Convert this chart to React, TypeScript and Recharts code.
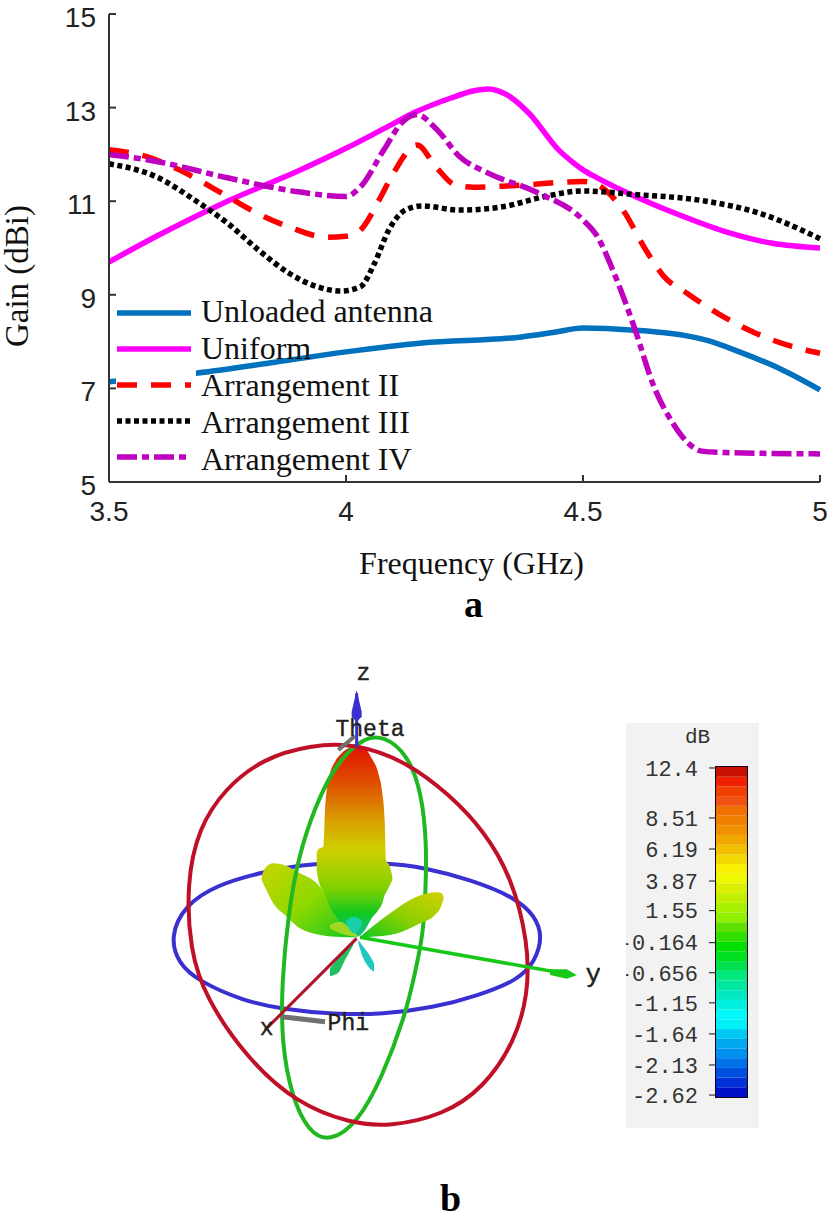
import {
  Area,
  Bar,
  BarChart,
  ComposedChart,
  Legend,
  Line,
  LineChart,
  ReferenceArea,
  ReferenceDot,
  XAxis,
  YAxis,
} from 'recharts';

// panel a: gain against frequency
const unloadedFreq = [3.5, 3.687, 3.85, 4.0, 4.16, 4.37, 4.44, 4.5, 4.6, 4.76, 4.83, 4.92, 5.0];
const unloadedGain = [7.14, 7.33, 7.56, 7.78, 7.97, 8.1, 8.2, 8.29, 8.25, 8.03, 7.78, 7.4, 6.97];

const uniformFreq = [3.5, 3.6, 3.75, 3.9, 4.0, 4.08, 4.15, 4.22, 4.27, 4.3, 4.34, 4.386, 4.45, 4.48, 4.5, 4.53, 4.6, 4.7, 4.8, 4.9, 5.0];
const uniformGain = [9.7, 10.25, 11.0, 11.65, 12.13, 12.55, 12.92, 13.2, 13.36, 13.4, 13.27, 12.88, 12.08, 11.82, 11.67, 11.5, 11.15, 10.72, 10.35, 10.1, 10.0];

const arr2Freq = [3.5, 3.58, 3.648, 3.75, 3.8, 3.88, 3.96, 4.0, 4.03, 4.07, 4.1, 4.15, 4.19, 4.23, 4.27, 4.35, 4.5, 4.53, 4.585, 4.63, 4.67, 4.72, 4.785, 4.86, 4.93, 5.0];
const arr2Gain = [12.1, 11.95, 11.67, 11.1, 10.81, 10.45, 10.23, 10.25, 10.38, 11.03, 11.6, 12.2, 11.73, 11.35, 11.3, 11.33, 11.42, 11.35, 10.8, 10.0, 9.4, 9.03, 8.6, 8.2, 7.93, 7.75];

const arr3Freq = [3.5, 3.6, 3.68, 3.75, 3.815, 3.88, 3.94, 3.99, 4.03, 4.06, 4.09, 4.125, 4.16, 4.24, 4.33, 4.42, 4.5, 4.6, 4.76, 4.87, 5.0];
const arr3Gain = [11.8, 11.52, 11.03, 10.53, 9.96, 9.46, 9.17, 9.08, 9.17, 9.67, 10.38, 10.81, 10.9, 10.81, 10.88, 11.1, 11.22, 11.15, 11.0, 10.75, 10.2];

const arr4Freq = [3.5, 3.6, 3.75, 3.9, 4.0, 4.03, 4.08, 4.12, 4.15, 4.19, 4.24, 4.3, 4.4, 4.5, 4.53, 4.56, 4.585, 4.61, 4.65, 4.69, 4.72, 4.75, 4.8, 5.0];
const arr4Gain = [12.0, 11.85, 11.5, 11.2, 11.1, 11.3, 12.1, 12.7, 12.85, 12.55, 11.95, 11.6, 11.2, 10.6, 10.25, 9.6, 8.96, 8.25, 7.03, 6.25, 5.85, 5.66, 5.63, 5.6];

const freqTicks = [3.5, 4, 4.5, 5];
const gainTicks = [5, 7, 9, 11, 13, 15];
const seriesNames = ['Unloaded antenna', 'Uniform', 'Arrangement II', 'Arrangement III', 'Arrangement IV'];

// panel b: outlines of the pattern plot, in units of a 1350 x 1500 picture
const redRingX = [620, 770, 900, 1000, 1085, 1135, 1135, 1095, 1000, 880, 720, 600, 440, 290, 165, 120, 110, 145, 225, 340, 480];
const redRingY = [280, 335, 435, 540, 680, 880, 1030, 1175, 1315, 1395, 1430, 1420, 1360, 1225, 1040, 900, 700, 535, 415, 325, 285];
const blueRingX = [60, 105, 200, 330, 480, 720, 820, 960, 1095, 1155, 1178, 1155, 1105, 980, 850, 700, 550, 400, 280, 145, 85];
const blueRingY = [860, 765, 705, 668, 638, 638, 653, 688, 742, 797, 860, 935, 990, 1038, 1073, 1093, 1093, 1078, 1053, 993, 940];
const greenRingX = [700, 775, 815, 830, 827, 820, 795, 765, 695, 625, 540, 475, 425, 395, 395, 415, 445, 495, 555, 635];
const greenRingY = [255, 315, 430, 580, 720, 850, 970, 1100, 1285, 1415, 1478, 1445, 1340, 1180, 1000, 790, 620, 470, 345, 265];

const mainLobeX = [500, 505, 520, 525, 530, 540, 555, 575, 600, 620, 645, 665, 685, 697, 704, 708, 720, 727];
const mainLobeTop = [610, 597, 590, 480, 420, 370, 335, 310, 292, 285, 295, 325, 370, 430, 510, 630, 650, 680];
const mainLobeBottom = [660, 690, 725, 735, 745, 770, 795, 825, 850, 860, 840, 805, 780, 760, 735, 728, 705, 690];
const leftLobeX = [335, 345, 370, 410, 450, 500, 530, 560, 620];
const leftLobeTop = [680, 655, 640, 648, 670, 700, 740, 790, 850];
const leftLobeBottom = [690, 712, 760, 800, 835, 853, 858, 860, 862];
const rightLobeX = [630, 720, 800, 860, 875, 881];
const rightLobeTop = [860, 790, 740, 727, 730, 742];
const rightLobeBottom = [862, 855, 825, 790, 765, 745];
const innerLobeX = [540, 570, 600, 625];
const innerLobeTop = [825, 815, 835, 860];
const innerLobeBottom = [835, 850, 858, 860];
const coreLobeX = [590, 612, 635];
const coreLobeTop = [812, 800, 812];
const coreLobeBottom = [825, 850, 825];
const lowLeftLobeX = [540, 565, 585, 610];
const lowLeftLobeTop = [955, 925, 900, 880];
const lowLeftLobeBottom = [978, 968, 930, 885];
const lowRightLobeX = [625, 640, 655, 672];
const lowRightLobeTop = [870, 890, 910, 940];
const lowRightLobeBottom = [880, 925, 950, 965];
const zHeadX = [605, 620, 635];
const zHeadTop = [185, 120, 185];
const zHeadBottom = [200, 215, 200];
const yHeadX = [1200, 1250, 1280];
const yHeadTop = [958, 958, 975];
const yHeadBottom = [975, 986, 976];

const zShaftX = [620, 620];
const zShaftY = [290, 130];
const yShaftX = [630, 1240];
const yShaftY = [862, 970];
const xShaftX = [620, 345];
const xShaftY = [865, 1140];
const thetaArrowX = [615, 565];
const thetaArrowY = [258, 300];
const phiArrowX = [395, 525];
const phiArrowY = [1100, 1115];

// colour scale of panel b, bottom band first
const bandColors = [
  '#0010c8', '#0030d8', '#0050e0', '#0070e8', '#0090f0', '#00a8f0', '#00c8f0', '#00f0f8', '#00f8f8', '#00f0e0',
  '#00e8c0', '#00e8a0', '#00e880', '#00e050', '#00e020', '#00e000', '#30e000', '#60e000', '#90f000', '#a8f000',
  '#c0f000', '#d8f000', '#f0f800', '#f8f000', '#f0d800', '#f0c000', '#f0a800', '#f09000', '#f08000', '#f07000',
  '#f05010', '#f04000', '#f02000', '#c81000',
];
const scaleLabels = ['12.4', '8.51', '6.19', '3.87', '1.55', '-0.164', '-0.656', '-1.15', '-1.64', '-2.13', '-2.62'];
const scaleBandPos = [33.9, 28.75, 25.55, 22.25, 19.2, 15.9, 12.8, 9.7, 6.5, 3.3, 0.2];

const zip = (xs: number[], ys: number[]) => xs.map((x, i) => ({ x, y: ys[i] }));
const zipRange = (xs: number[], top: number[], bottom: number[]) =>
  xs.map((x, i) => ({ x, range: [top[i], bottom[i]] }));

const bandRow: Record<string, number | string> = { name: 'scale' };
bandColors.forEach((_, i) => {
  bandRow[`b${i}`] = 1;
});

const serif = '"Liberation Serif", serif';
const sans = '"Liberation Sans", sans-serif';
const mono = '"Liberation Mono", monospace';
const axisColor = '#333';

function GainLegend({ payload }: any) {
  const items = [...(payload || [])].sort((a, b) => seriesNames.indexOf(a.value) - seriesNames.indexOf(b.value));
  return (
    <div style={{ position: 'relative', width: 340, height: 180 }}>
      <div style={{ position: 'absolute', left: 0, top: 0, width: 80, height: 180, background: '#fff' }} />
      {items.map((item: any, i: number) => (
        <div key={item.value}>
          <svg style={{ position: 'absolute', left: 1, top: 11 + i * 36, overflow: 'visible' }} width={75} height={10}>
            <line
              x1={0}
              x2={74}
              y1={5}
              y2={5}
              stroke={item.color}
              strokeWidth={5.5}
              strokeDasharray={item.payload?.strokeDasharray}
            />
          </svg>
          <span
            style={{
              position: 'absolute',
              left: 85,
              top: -4 + i * 37,
              fontFamily: serif,
              fontSize: 32,
              lineHeight: '36px',
              color: '#111',
              whiteSpace: 'nowrap',
            }}
          >
            {item.value}
          </span>
        </div>
      ))}
    </div>
  );
}

function GainChart() {
  return (
    <LineChart width={827} height={600} margin={{ top: 14, right: 7, bottom: 0, left: 0 }}>
      <XAxis
        xAxisId="b"
        type="number"
        dataKey="x"
        domain={[3.5, 5]}
        ticks={freqTicks}
        interval={0}
        height={118}
        tickSize={-7}
        tickMargin={26}
        stroke={axisColor}
        strokeWidth={2}
        tick={{ fontFamily: sans, fontSize: 28, fill: '#222' }}
        label={{ value: 'Frequency (GHz)', position: 'insideTop', dy: 64, dx: 7, fontFamily: serif, fontSize: 32, fill: '#111' }}
      />
      <XAxis
        xAxisId="t"
        orientation="top"
        type="number"
        dataKey="x"
        domain={[3.5, 5]}
        ticks={freqTicks}
        height={0}
        tick={false}
        tickSize={-7}
        stroke={axisColor}
        strokeWidth={2}
      />
      <YAxis
        yAxisId="l"
        type="number"
        domain={[5, 15]}
        ticks={gainTicks}
        interval={0}
        width={109}
        tickSize={-7}
        tickMargin={20}
        stroke={axisColor}
        strokeWidth={2}
        tick={{ fontFamily: sans, fontSize: 28, fill: '#222', dy: 3 }}
        label={{
          value: 'Gain (dBi)',
          angle: -90,
          position: 'insideLeft',
          textAnchor: 'middle',
          dx: 11,
          dy: 28,
          fontFamily: serif,
          fontSize: 33,
          fill: '#111',
        }}
      />
      <YAxis
        yAxisId="r"
        orientation="right"
        type="number"
        domain={[5, 15]}
        ticks={gainTicks}
        width={0}
        tick={false}
        tickSize={-7}
        stroke={axisColor}
        strokeWidth={2}
      />
      <Line xAxisId="b" yAxisId="l" data={zip(unloadedFreq, unloadedGain)} dataKey="y" name={seriesNames[0]} type="monotone" stroke="#0072bd" strokeWidth={5.5} dot={false} isAnimationActive={false} />
      <Line xAxisId="b" yAxisId="l" data={zip(uniformFreq, uniformGain)} dataKey="y" name={seriesNames[1]} type="monotone" stroke="#ff00ff" strokeWidth={5.5} dot={false} isAnimationActive={false} />
      <Line xAxisId="b" yAxisId="l" data={zip(arr2Freq, arr2Gain)} dataKey="y" name={seriesNames[2]} type="monotone" stroke="#ff0000" strokeWidth={5.5} strokeDasharray="20 14" dot={false} isAnimationActive={false} />
      <Line xAxisId="b" yAxisId="l" data={zip(arr3Freq, arr3Gain)} dataKey="y" name={seriesNames[3]} type="monotone" stroke="#000000" strokeWidth={5.5} strokeDasharray="5 3.5" dot={false} isAnimationActive={false} />
      <Line xAxisId="b" yAxisId="l" data={zip(arr4Freq, arr4Gain)} dataKey="y" name={seriesNames[4]} type="monotone" stroke="#bf00bf" strokeWidth={5.5} strokeDasharray="20 5 7 5" dot={false} isAnimationActive={false} />
      <Legend
        layout="vertical"
        align="center"
        verticalAlign="middle"
        itemSorter={null}
        content={<GainLegend />}
        wrapperStyle={{ left: 116, top: 297, width: 340, height: 180 }}
      />
    </LineChart>
  );
}

const lineProps = (z: number) => ({ dataKey: 'y', dot: false, isAnimationActive: false, zIndex: z } as any);
const lobeProps = (fill: string, z: number) =>
  ({ dataKey: 'range', type: 'monotone', stroke: 'none', fill, fillOpacity: 1, dot: false, isAnimationActive: false, zIndex: z } as any);

const labelText = (value: string, size = 23) => ({
  value,
  position: 'center' as const,
  fontFamily: mono,
  fontSize: size,
  fill: '#222',
  stroke: '#222',
  strokeWidth: 0.4,
});

function PatternChart() {
  return (
    <ComposedChart width={450} height={500} margin={{ top: 0, right: 0, bottom: 0, left: 0 }}>
      <defs>
        <linearGradient id="mainLobe" x1="0" y1="0" x2="0" y2="1">
          <stop offset="0" stopColor="#e01000" />
          <stop offset="0.2" stopColor="#e05000" />
          <stop offset="0.4" stopColor="#d8a000" />
          <stop offset="0.55" stopColor="#d0d000" />
          <stop offset="0.75" stopColor="#80d000" />
          <stop offset="0.88" stopColor="#10c820" />
          <stop offset="1" stopColor="#10c0a0" />
        </linearGradient>
        <linearGradient id="leftLobe" x1="0" y1="0" x2="1" y2="1">
          <stop offset="0" stopColor="#c8d400" />
          <stop offset="0.5" stopColor="#90d800" />
          <stop offset="1" stopColor="#10c820" />
        </linearGradient>
        <linearGradient id="rightLobe" x1="1" y1="0" x2="0" y2="1">
          <stop offset="0" stopColor="#d0d000" />
          <stop offset="0.5" stopColor="#90d000" />
          <stop offset="1" stopColor="#10c820" />
        </linearGradient>
      </defs>
      <XAxis type="number" dataKey="x" domain={[0, 1350]} hide />
      <YAxis type="number" domain={[0, 1500]} reversed hide />
      <Line data={zip(blueRingX, blueRingY)} type="basisClosed" stroke="#3a2fd0" strokeWidth={4} {...lineProps(10)} />
      <Area data={zipRange(leftLobeX, leftLobeTop, leftLobeBottom)} {...lobeProps('url(#leftLobe)', 11)} />
      <Area data={zipRange(mainLobeX, mainLobeTop, mainLobeBottom)} {...lobeProps('url(#mainLobe)', 12)} />
      <Line data={zip(greenRingX, greenRingY)} type="basisClosed" stroke="#20b820" strokeWidth={4} {...lineProps(13)} />
      <Area data={zipRange(rightLobeX, rightLobeTop, rightLobeBottom)} {...lobeProps('url(#rightLobe)', 14)} />
      <Area data={zipRange(innerLobeX, innerLobeTop, innerLobeBottom)} {...lobeProps('#a0d820', 15)} />
      <Area data={zipRange(coreLobeX, coreLobeTop, coreLobeBottom)} {...lobeProps('#18d0a8', 15)} />
      <Area data={zipRange(lowLeftLobeX, lowLeftLobeTop, lowLeftLobeBottom)} {...lobeProps('#20c060', 15)} />
      <Area data={zipRange(lowRightLobeX, lowRightLobeTop, lowRightLobeBottom)} {...lobeProps('#20c8c0', 15)} />
      <Line data={zip(redRingX, redRingY)} type="basisClosed" stroke="#c01028" strokeWidth={4} {...lineProps(16)} />
      <Line data={zip(zShaftX, zShaftY)} type="linear" stroke="#3a2fd0" strokeWidth={3} {...lineProps(17)} />
      <Area data={zipRange(zHeadX, zHeadTop, zHeadBottom)} {...lobeProps('#3a2fd0', 17)} type="linear" />
      <Line data={zip(yShaftX, yShaftY)} type="linear" stroke="#18c818" strokeWidth={3.5} {...lineProps(17)} />
      <Area data={zipRange(yHeadX, yHeadTop, yHeadBottom)} {...lobeProps('#18c818', 17)} type="linear" />
      <Line data={zip(xShaftX, xShaftY)} type="linear" stroke="#b01028" strokeWidth={3} {...lineProps(17)} />
      <Line data={zip(thetaArrowX, thetaArrowY)} type="linear" stroke="#707070" strokeWidth={4} {...lineProps(18)} />
      <Line data={zip(phiArrowX, phiArrowY)} type="linear" stroke="#707070" strokeWidth={5} {...lineProps(18)} />
      <ReferenceDot x={640} y={65} r={0} stroke="none" fill="none" label={labelText('z')} />
      <ReferenceDot x={660} y={235} r={0} stroke="none" fill="none" label={labelText('Theta')} />
      <ReferenceDot x={595} y={1115} r={0} stroke="none" fill="none" label={labelText('Phi')} />
      <ReferenceDot x={350} y={1130} r={0} stroke="none" fill="none" label={labelText('x')} />
      <ReferenceDot x={1330} y={968} r={0} stroke="none" fill="none" label={labelText('y', 26)} />
    </ComposedChart>
  );
}

function ScaleChart() {
  return (
    <BarChart
      width={133}
      height={405}
      data={[bandRow]}
      barCategoryGap={0}
      margin={{ top: 44, right: 12, bottom: 31, left: 0 }}
    >
      <XAxis dataKey="name" hide />
      <YAxis
        type="number"
        domain={[0, bandColors.length]}
        ticks={scaleBandPos}
        interval={0}
        width={90}
        tickSize={7}
        tickMargin={11}
        axisLine={false}
        stroke="#111"
        tick={{ fontFamily: mono, fontSize: 22, fill: '#333' }}
        tickFormatter={(v: number) => scaleLabels[scaleBandPos.indexOf(v)]}
      />
      {bandColors.map((color, i) => (
        <Bar key={color + i} dataKey={`b${i}`} stackId="scale" fill={color} isAnimationActive={false} />
      ))}
      <ReferenceArea y1={0} y2={bandColors.length} stroke="#100818" strokeWidth={2} fill="none" />
    </BarChart>
  );
}

export default function App() {
  return (
    <div style={{ position: 'absolute', left: 0, top: 0, width: 827, height: 1224, background: '#fff', overflow: 'hidden' }}>
      <GainChart />
      <div style={{ position: 'absolute', left: 464, top: 584, fontFamily: serif, fontWeight: 700, fontSize: 38, lineHeight: '40px' }}>a</div>
      <div style={{ position: 'absolute', left: 150, top: 650 }}>
        <PatternChart />
      </div>
      <div style={{ position: 'absolute', left: 626, top: 723, width: 133, height: 405, background: '#f2f2f2', overflow: 'hidden' }}>
        <ScaleChart />
        <div style={{ position: 'absolute', left: 59, top: 3, fontFamily: mono, fontSize: 21, lineHeight: '24px', color: '#333' }}>dB</div>
      </div>
      <div style={{ position: 'absolute', left: 440, top: 1178, fontFamily: serif, fontWeight: 700, fontSize: 38, lineHeight: '40px' }}>b</div>
    </div>
  );
}
